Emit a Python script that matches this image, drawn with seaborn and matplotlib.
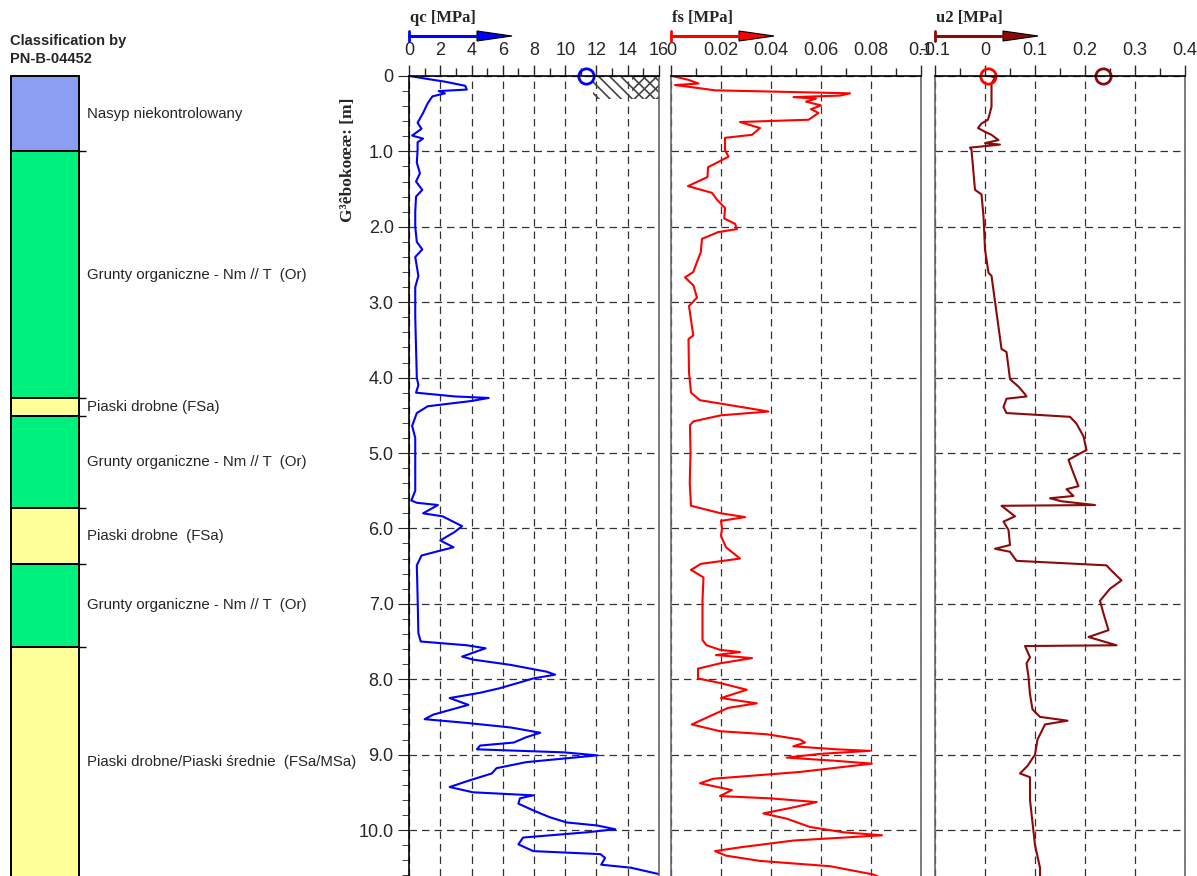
import matplotlib
matplotlib.use("Agg")
import matplotlib.pyplot as plt
from matplotlib.patches import Polygon
from matplotlib.lines import Line2D
from matplotlib.ticker import FixedLocator, MultipleLocator
import numpy as np
import pandas as pd
import seaborn as sns

# ---- soil classification (depth in m) ----
layer_names = [
    "Nasyp niekontrolowany",
    "Grunty organiczne - Nm // T  (Or)",
    "Piaski drobne (FSa)",
    "Grunty organiczne - Nm // T  (Or)",
    "Piaski drobne  (FSa)",
    "Grunty organiczne - Nm // T  (Or)",
    "Piaski drobne/Piaski średnie  (FSa/MSa)",
]
layer_top = [0.0, 1.0, 4.27, 4.51, 5.73, 6.47, 7.57]
layer_bottom = [1.0, 4.27, 4.51, 5.73, 6.47, 7.57, 10.62]
layer_colors = ["#8b9ff2", "#00f07e", "#ffff99", "#00f07e", "#ffff99", "#00f07e", "#ffff99"]

# ---- cone resistance qc [MPa] ----
qc_depth = [0.00, 0.04, 0.075, 0.13, 0.18, 0.20, 0.23, 0.27, 0.36, 0.49, 0.62, 0.70, 0.79, 0.83, 0.88,
            0.98, 1.15, 1.29, 1.40, 1.51, 1.60, 1.80, 2.00, 2.20, 2.30, 2.40, 2.65, 2.80, 3.20, 3.60,
            4.00, 4.10, 4.20, 4.25, 4.27, 4.31, 4.38, 4.47, 4.64, 4.80, 5.10, 5.50, 5.63, 5.66, 5.69,
            5.80, 5.84, 5.97, 6.05, 6.16, 6.25, 6.30, 6.36, 6.49, 6.90, 7.39, 7.50, 7.55, 7.59, 7.70,
            7.74, 7.81, 7.90, 7.94, 7.99, 8.03, 8.12, 8.18, 8.25, 8.34, 8.47, 8.53, 8.58, 8.64, 8.71,
            8.77, 8.84, 8.88, 8.93, 8.97, 9.01, 9.10, 9.18, 9.25, 9.34, 9.43, 9.50, 9.54, 9.58, 9.65,
            9.74, 9.83, 9.90, 9.94, 9.99, 10.03, 10.10, 10.19, 10.28, 10.32, 10.37, 10.46, 10.50, 10.59,
            10.65]
qc_values = [0.06, 1.2, 2.3, 3.6, 3.7, 1.9, 2.3, 1.5, 1.2, 0.9, 0.55, 0.8, 0.2, 0.9, 0.55,
             0.55, 0.5, 0.7, 0.45, 0.85, 0.45, 0.4, 0.4, 0.5, 0.85, 0.4, 0.6, 0.4, 0.4, 0.45,
             0.5, 0.6, 0.45, 2.95, 5.1, 4.0, 1.2, 0.5, 0.2, 0.4, 0.4, 0.4, 0.15, 0.5, 1.85,
             0.9, 2.15, 3.4, 2.9, 2.0, 2.85, 1.9, 0.8, 0.5, 0.55, 0.6, 0.75, 3.7, 4.9, 3.4,
             4.1, 6.5, 8.8, 9.35, 7.95, 7.3, 5.8, 4.55, 2.6, 3.8, 1.55, 1.0, 3.7, 6.5, 8.4,
             7.5, 6.7, 4.55, 4.35, 9.9, 12.05, 7.5, 5.6, 5.3, 3.9, 2.6, 4.1, 7.95, 7.1, 7.0,
             7.95, 9.0, 10.1, 12.05, 13.2, 11.4, 7.3, 7.0, 7.95, 12.25, 12.55, 12.3, 14.2, 16.1,
             17.0]

# ---- sleeve friction fs [MPa] ----
fs_depth = [0.00, 0.05, 0.10, 0.12, 0.16, 0.19, 0.21, 0.23, 0.26, 0.28, 0.30, 0.34, 0.39, 0.44, 0.49,
            0.58, 0.61, 0.69, 0.78, 0.82, 0.98, 1.07, 1.21, 1.34, 1.46, 1.55, 1.64, 1.75, 1.89, 1.96,
            2.03, 2.07, 2.16, 2.34, 2.43, 2.60, 2.67, 2.78, 2.94, 3.05, 3.44, 3.49, 3.93, 4.20, 4.30,
            4.40, 4.45, 4.50, 4.58, 4.63, 5.00, 5.40, 5.70, 5.80, 5.85, 5.90, 6.00, 6.10, 6.25, 6.40,
            6.47, 6.55, 6.65, 6.95, 7.48, 7.55, 7.61, 7.64, 7.68, 7.72, 7.79, 7.86, 7.99, 8.05, 8.14,
            8.25, 8.32, 8.38, 8.47, 8.60, 8.69, 8.73, 8.80, 8.84, 8.89, 8.93, 8.95, 8.99, 9.04, 9.08,
            9.12, 9.23, 9.32, 9.38, 9.47, 9.55, 9.58, 9.63, 9.70, 9.78, 9.85, 9.96, 10.03, 10.07, 10.14,
            10.23, 10.28, 10.34, 10.41, 10.48, 10.59, 10.65]
fs_values = [0.0005, 0.0069, 0.011, 0.0016, 0.011, 0.0176, 0.045, 0.0716, 0.0676, 0.049, 0.058, 0.054,
             0.060, 0.056, 0.059, 0.055, 0.0276, 0.0356, 0.0324, 0.0216, 0.0216, 0.023, 0.0148, 0.0146,
             0.0068, 0.0164, 0.0184, 0.0216, 0.0213, 0.0256, 0.0264, 0.0189, 0.0124, 0.0119, 0.0108,
             0.0089, 0.0056, 0.009, 0.0104, 0.0072, 0.0089, 0.007, 0.0072, 0.008, 0.0116, 0.030, 0.039,
             0.020, 0.009, 0.0076, 0.0078, 0.0075, 0.008, 0.020, 0.0296, 0.020, 0.0204, 0.020, 0.022,
             0.0276, 0.012, 0.008, 0.013, 0.0126, 0.0126, 0.0142, 0.0196, 0.0276, 0.018, 0.0324, 0.0196,
             0.0108, 0.0108, 0.0196, 0.0303, 0.020, 0.0343, 0.0229, 0.0169, 0.0083, 0.0196, 0.0383,
             0.0516, 0.0536, 0.0489, 0.0663, 0.0796, 0.0596, 0.0463, 0.0649, 0.0803, 0.0516, 0.0169,
             0.0116, 0.0243, 0.0196, 0.0396, 0.0583, 0.0489, 0.0369, 0.0463, 0.0556, 0.0689, 0.0844,
             0.0489, 0.0276, 0.0176, 0.022, 0.0356, 0.0636, 0.0809, 0.085]

# ---- pore pressure u2 [MPa] ----
u2_depth = [0.00, 0.02, 0.10, 0.32, 0.41, 0.58, 0.63, 0.69, 0.74, 0.78, 0.85, 0.89, 0.91, 0.95, 0.98,
            1.51, 1.57, 1.86, 2.30, 2.61, 2.65, 3.62, 3.66, 4.02, 4.12, 4.22, 4.25, 4.28, 4.39, 4.47,
            4.52, 4.61, 4.78, 4.96, 5.09, 5.27, 5.44, 5.48, 5.57, 5.60, 5.64, 5.69, 5.70, 5.84, 5.91,
            6.02, 6.22, 6.27, 6.31, 6.43, 6.49, 6.56, 6.69, 6.80, 6.96, 7.13, 7.35, 7.44, 7.55, 7.56,
            7.71, 7.79, 7.97, 8.20, 8.40, 8.50, 8.55, 8.60, 8.80, 9.00, 9.15, 9.25, 9.30, 9.60, 9.90,
            10.20, 10.50, 10.65]
u2_values = [0.01, 0.02, 0.013, 0.013, 0.013, 0.006, -0.007, -0.014, 0.0, 0.013, 0.027, 0.0, 0.03,
             -0.03, -0.027, -0.02, -0.007, -0.003, 0.0, 0.007, 0.013, 0.033, 0.043, 0.05, 0.067, 0.08,
             0.083, 0.043, 0.037, 0.043, 0.17, 0.183, 0.197, 0.203, 0.167, 0.177, 0.187, 0.163, 0.177,
             0.13, 0.153, 0.22, 0.033, 0.06, 0.037, 0.047, 0.05, 0.02, 0.05, 0.063, 0.243, 0.253, 0.273,
             0.25, 0.23, 0.237, 0.247, 0.207, 0.263, 0.08, 0.09, 0.083, 0.087, 0.09, 0.095, 0.11, 0.165,
             0.12, 0.105, 0.10, 0.085, 0.07, 0.09, 0.09, 0.095, 0.10, 0.11, 0.11]

# reference circles at the surface
qc_marker = [11.3]
u2_markers = [0.005, 0.235]
u2_marker_colors = ["red", "#8b0a0a"]

W, H = 1197, 876
DEPTH_MAX = 10.61
TOP_PX = 76

sns.set_style("ticks")
plt.rcParams["font.family"] = ["Liberation Sans", "DejaVu Sans"]
plt.rcParams["hatch.linewidth"] = 1.2


def fx(px):
    return px / W


def fy(py):
    return 1 - py / H


def panel(fig, left_px, right_px):
    return fig.add_axes([fx(left_px), 0.0, (right_px - left_px) / W, (H - TOP_PX) / H])


def header(fig, left_px, text, color):
    fig.text(fx(left_px + 1), fy(18), text, fontsize=12, fontweight="bold",
             family=["Liberation Serif", "DejaVu Serif"], va="center", ha="left")
    fig.add_artist(Line2D([fx(left_px), fx(left_px + 72)], [fy(36), fy(36)], color=color, lw=2.2,
                          transform=fig.transFigure))
    fig.add_artist(Line2D([fx(left_px), fx(left_px)], [fy(31), fy(41)], color=color, lw=2,
                          transform=fig.transFigure))
    tri = Polygon([[fx(left_px + 68), fy(31)], [fx(left_px + 103), fy(36)], [fx(left_px + 68), fy(41)]],
                  closed=True, facecolor=color, edgecolor="black", lw=0.8, transform=fig.transFigure)
    fig.add_artist(tri)


def style_panel(ax, xlim, major, minor, labels, show_y=False):
    ax.set_xlim(*xlim)
    ax.set_ylim(DEPTH_MAX, 0)
    ax.xaxis.tick_top()
    ax.xaxis.set_major_locator(FixedLocator(major))
    ax.set_xticklabels(labels)
    ax.xaxis.set_minor_locator(FixedLocator(minor))
    ax.tick_params(axis="x", which="major", direction="out", length=8, width=1, labelsize=13, pad=4)
    ax.tick_params(axis="x", which="minor", direction="out", length=6, width=1)
    ax.set_yticks(np.arange(0, 11, 1.0))
    ax.yaxis.set_minor_locator(MultipleLocator(0.2))
    if show_y:
        ax.set_yticklabels(["0"] + [f"{v:.1f}" for v in np.arange(1, 11, 1.0)])
        ax.tick_params(axis="y", which="major", direction="out", length=8, labelsize=13, pad=3)
        ax.tick_params(axis="y", which="minor", direction="out", length=5)
    else:
        ax.tick_params(axis="y", which="both", left=False, labelleft=False)
    ax.grid(True, which="major", color="black", linestyle=(0, (6, 4)), lw=0.9, alpha=0.8)
    ax.set_xlabel("")
    ax.set_ylabel("")
    ax.spines["bottom"].set_visible(False)
    ax.spines["top"].set_color("black")
    ax.spines["left"].set_color("black" if show_y else "#666666")
    ax.spines["right"].set_color("#666666")
    for s in ax.spines.values():
        s.set_linewidth(1.2)


fig = plt.figure(figsize=(W / 100, H / 100), dpi=100)

# classification column
ax_c = fig.add_axes([0.0, 0.0, 330 / W, (H - TOP_PX) / H])
ax_c.set_xlim(0, 330)
ax_c.set_ylim(DEPTH_MAX, 0)
thick = [b - t for t, b in zip(layer_top, layer_bottom)]
ax_c.bar(x=11, width=68, bottom=layer_top, height=thick, align="edge", color=layer_colors,
         edgecolor="black", lw=1.4, clip_on=False)
ax_c.hlines(layer_bottom[:-1], 79, 86, color="black", lw=1)
for name, t, b in zip(layer_names, layer_top, layer_bottom):
    ax_c.text(87, (t + b) / 2, name, fontsize=10.8, va="center", ha="left")
ax_c.axis("off")
fig.text(fx(10), fy(34), "Classification by\nPN-B-04452", fontsize=10.5, fontweight="bold",
         va="top", ha="left", linespacing=1.35)

# qc panel
ax_qc = panel(fig, 409, 659)
sns.lineplot(x=qc_values, y=qc_depth, sort=False, estimator=None, color="blue", lw=1.5, ax=ax_qc)
ax_qc.fill_betweenx([0, 0.3], 11.8, 16, facecolor="none", edgecolor="#444444", hatch="\\\\\\", lw=0)
ax_qc.fill_betweenx([0, 0.3], 14.3, 16, facecolor="none", edgecolor="#444444", hatch="///", lw=0)
ax_qc.plot(qc_marker, [0], marker="o", ms=11, mfc="none", mec="blue", mew=2, ls="none", clip_on=False)
style_panel(ax_qc, (0, 16), range(0, 17, 2), range(1, 16, 2), [str(v) for v in range(0, 17, 2)],
            show_y=True)

# fs panel
ax_fs = panel(fig, 671, 921)
sns.lineplot(x=fs_values, y=fs_depth, sort=False, estimator=None, color="red", lw=1.5, ax=ax_fs)
style_panel(ax_fs, (0, 0.1), [0, 0.02, 0.04, 0.06, 0.08, 0.1], [0.01, 0.03, 0.05, 0.07, 0.09],
            ["0", "0.02", "0.04", "0.06", "0.08", "0.1"])

# u2 panel
ax_u2 = panel(fig, 935, 1185)
sns.lineplot(x=u2_values, y=u2_depth, sort=False, estimator=None, color="#8b0a0a", lw=1.5, ax=ax_u2)
for v, c in zip(u2_markers, u2_marker_colors):
    ax_u2.plot([v], [0], marker="o", ms=11, mfc="none", mec=c, mew=2, ls="none", clip_on=False)
style_panel(ax_u2, (-0.1, 0.4), [-0.1, 0, 0.1, 0.2, 0.3, 0.4], [-0.05, 0.05, 0.15, 0.25, 0.35],
            ["-0.1", "0", "0.1", "0.2", "0.3", "0.4"])

header(fig, 409, "qc [MPa]", "blue")
header(fig, 671, "fs [MPa]", "red")
header(fig, 935, "u2 [MPa]", "#8b0a0a")

fig.text(fx(348), fy(160), "G³êbokoœæ: [m]", rotation=90, fontsize=12.5, fontweight="bold",
         family=["Liberation Serif", "DejaVu Serif"], va="center", ha="center")

fig.savefig("out.png", dpi=100)
